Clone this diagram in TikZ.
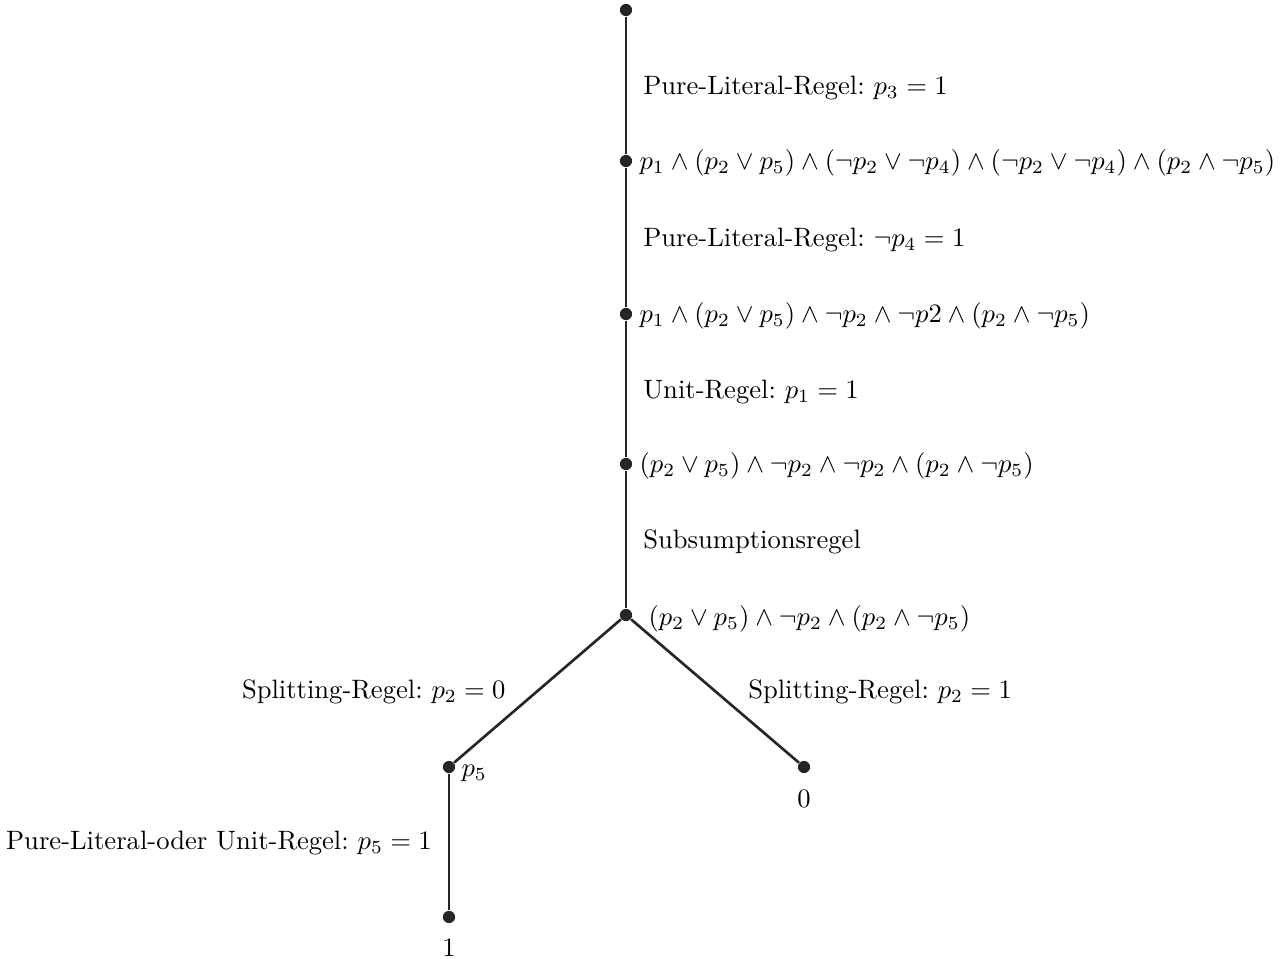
\documentclass[tikz,border=0pt]{standalone}
\usepackage{amsmath,amssymb}
\frenchspacing
\begin{document}
\begin{tikzpicture}[x=0.376pt,y=-0.376pt,
  dot/.style={circle,fill=black!85,inner sep=0pt,minimum size=4.6pt},
  edge/.style={line width=1pt,draw=black!85},
  txt/.style={inner sep=0pt,font=\normalsize}]
\useasboundingbox (0,0) rectangle (1282,958);
% dots
\node[dot] (n0) at (626,10) {};
\node[dot] (n1) at (626,161) {};
\node[dot] (n2) at (626,314) {};
\node[dot] (n3) at (626,464) {};
\node[dot] (n4) at (626,615) {};
\node[dot] (n5) at (449,767) {};
\node[dot] (n6) at (804,767) {};
\node[dot] (n7) at (449,917) {};
% connectors with labels
\draw[edge] (n0) -- node[txt,anchor=west,xshift=6pt,yshift=-1pt]{Pure-Literal-Regel: $p_3=1$} (n1);
\draw[edge] (n1) -- node[txt,anchor=west,xshift=6pt,yshift=-1pt]{Pure-Literal-Regel: $\neg p_4=1$} (n2);
\draw[edge] (n2) -- node[txt,anchor=west,xshift=6pt,yshift=-1pt]{Unit-Regel: $p_1=1$} (n3);
\draw[edge] (n3) -- node[txt,anchor=west,xshift=6pt,yshift=-1pt]{Subsumptionsregel} (n4);
\draw[edge] (n4) -- node[txt,anchor=east,xshift=-11.5pt,yshift=-0.3pt]{Splitting-Regel: $p_2=0$} (n5);
\draw[edge] (n4) -- node[txt,anchor=west,xshift=12pt,yshift=-0.3pt]{Splitting-Regel: $p_2=1$} (n6);
\draw[edge] (n5) -- node[txt,anchor=east,xshift=-6pt,yshift=-0.3pt]{Pure-Literal-oder Unit-Regel: $p_5=1$} (n7);
% formulas
\node[txt,anchor=west] (f1) at (639,163) {$p_1\wedge(p_2\vee p_5)\wedge(\neg p_2\vee\neg p_4)\wedge(\neg p_2\vee\neg p_4)\wedge(p_2\wedge\neg p_5)$};
\node[txt,anchor=west] (f2) at (639,316) {$p_1\wedge(p_2\vee p_5)\wedge\neg p_2\wedge\neg p2\wedge(p_2\wedge\neg p_5)$};
\node[txt,anchor=west] (f3) at (639,466) {$(p_2\vee p_5)\wedge\neg p_2\wedge\neg p_2\wedge(p_2\wedge\neg p_5)$};
\node[txt,anchor=west] (f4) at (648,619) {$(p_2\vee p_5)\wedge\neg p_2\wedge(p_2\wedge\neg p_5)$};
\node[txt,anchor=west] (f5) at (461,773) {$p_5$};
\node[txt] (f6) at (804,799) {$0$};
\node[txt] (f7) at (449,948) {$1$};
\end{tikzpicture}
\end{document}
